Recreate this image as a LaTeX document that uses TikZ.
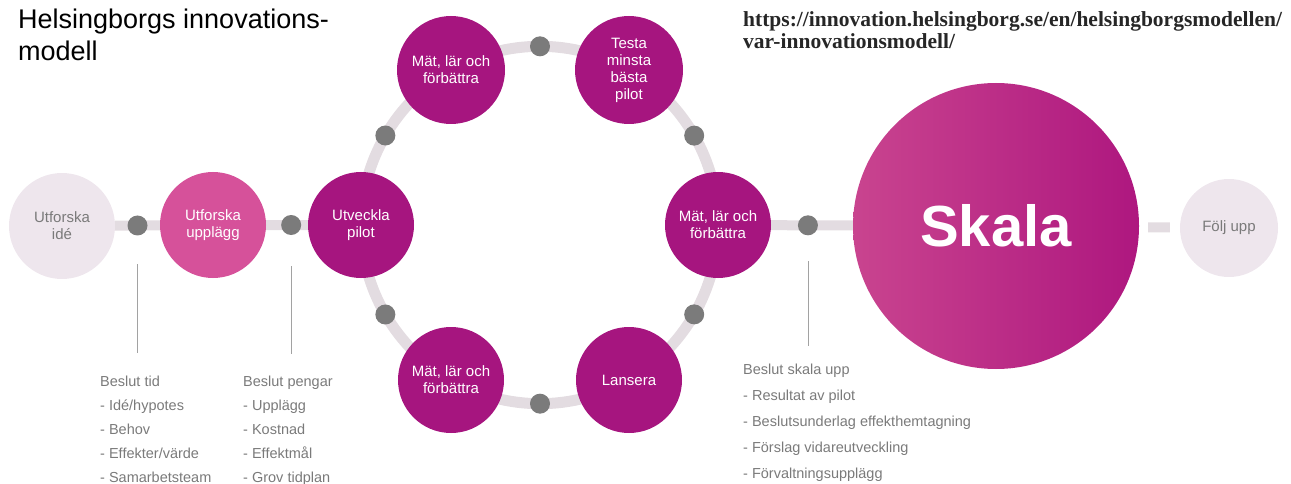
\documentclass[tikz,border=0pt]{standalone}
\usepackage{fontspec}
\setmainfont{Liberation Sans}
\newfontfamily\urlfont{Liberation Serif}
\usetikzlibrary{backgrounds,positioning}

\definecolor{lightc}{HTML}{EEE6ED}
\definecolor{pinkc}{HTML}{D6519A}
\definecolor{darkc}{HTML}{A6157F}
\definecolor{bandc}{HTML}{E3DCE1}
\definecolor{dotc}{HTML}{7B7B7B}
\definecolor{textc}{HTML}{7A7A7A}
\definecolor{skalaL}{HTML}{C9448F}
\definecolor{skalaR}{HTML}{AE177F}

\begin{document}
\begin{tikzpicture}[x=1pt,y=-1pt]

        % Setup the style for the steps
        \tikzset{node style/.style={circle,
                                    minimum size=106pt,
                                    inner sep=0pt,
                                    align=center,
                                    text=white,
                                    font=\fontsize{15}{17}\selectfont},
                 dot style/.style={circle, fill=dotc, minimum size=20pt, inner sep=0pt},
                 band style/.style={draw=bandc, line width=11pt},
                 list style/.style={anchor=north west, inner sep=0pt, align=left,
                                    text=textc, font=\fontsize{14.5}{24}\selectfont}}
        \useasboundingbox (0,0) rectangle (1291,484);

        % Headings
        \node[anchor=north west, inner sep=0pt, align=left,
              font=\fontsize{27}{32}\selectfont] (title) at (18,9)
              {Helsingborgs innovations-\\modell};
        \node[anchor=north west, inner sep=0pt, align=left, text=black!85,
              font=\urlfont\bfseries\fontsize{21.5}{22}\selectfont] (url) at (743,11)
              {https://innovation.helsingborg.se/en/helsingborgsmodellen/\\var-innovationsmodell/};

        % Draw the steps
        \node[node style, fill=lightc, text=textc] at (62, 226)   (ide)  {Utforska\\idé};
        \node[node style, fill=pinkc]  at (213, 225)  (upp)  {Utforska\\upplägg};
        \node[node style, fill=darkc]  at (361, 225)  (pil)  {Utveckla\\pilot};
        \node[node style, fill=darkc, minimum size=108pt] at (451, 70)   (mat1) {Mät, lär och\\förbättra};
        \node[node style, fill=darkc, minimum size=108pt] at (629, 70)   (tes)  {Testa\\minsta\\bästa\\pilot};
        \node[node style, fill=darkc]  at (718, 225)  (mat2) {Mät, lär och\\förbättra};
        \node[node style, fill=darkc]  at (629, 380)  (lan)  {Lansera};
        \node[node style, fill=darkc]  at (451, 380)  (mat3) {Mät, lär och\\förbättra};
        \node[node style, minimum size=286pt, left color=skalaL, right color=skalaR,
              font=\bfseries\fontsize{58}{60}\selectfont] at (996, 226) (ska) {Skala};
        \node[node style, fill=lightc, text=textc, minimum size=98pt] at (1229, 228) (fol) {Följ upp};

        % Connect the steps
        \begin{pgfonlayer}{background}
        \draw[band style]
            (pil.center)  to[bend left=30, looseness=0.91] node[dot style] {} (mat1.center)
            (mat1.center) to[bend left=30, looseness=0.91] node[dot style] {} (tes.center)
            (tes.center)  to[bend left=30, looseness=0.91] node[dot style] {} (mat2.center)
            (mat2.center) to[bend left=30, looseness=0.91] node[dot style] {} (lan.center)
            (lan.center)  to[bend left=30, looseness=0.91] node[dot style] {} (mat3.center)
            (mat3.center) to[bend left=30, looseness=0.91] node[dot style] {} (pil.center);
        \draw[band style, line width=10pt]
            (ide) -- node[dot style] (d1) {} (upp)
            (upp) -- node[dot style, pos=0.6] (d2) {} (pil)
            (mat2) -- node[dot style, pos=0.45] (d3) {} (ska);
        \draw[band style, line width=10pt, shorten <=9pt, shorten >=10pt] (ska) -- (fol);
        \end{pgfonlayer}

        % Decisions
        \coordinate[below=112pt of d1] (t1);
        \coordinate[below=114pt of d2] (t2);
        \coordinate[below=106pt of d3] (t3);
        \draw[textc!70, line width=0.8pt, shorten <=24pt] (d1) -- (t1);
        \draw[textc!70, line width=0.8pt, shorten <=26pt] (d2) -- (t2);
        \draw[textc!70, line width=0.8pt, shorten <=21pt] (d3) -- (t3);

        \node[list style] at (100, 376) (tid)
            {Beslut tid\\- Idé/hypotes\\- Behov\\- Effekter/värde\\- Samarbetsteam};
        \node[list style] at (243, 376) (pengar)
            {Beslut pengar\\- Upplägg\\- Kostnad\\- Effektmål\\- Grov tidplan};
        \node[list style, font=\fontsize{14.5}{26}\selectfont] at (743, 364) (skalaupp)
            {Beslut skala upp\\- Resultat av pilot\\- Beslutsunderlag effekthemtagning\\- Förslag vidareutveckling\\- Förvaltningsupplägg};
    \end{tikzpicture}
\end{document}
